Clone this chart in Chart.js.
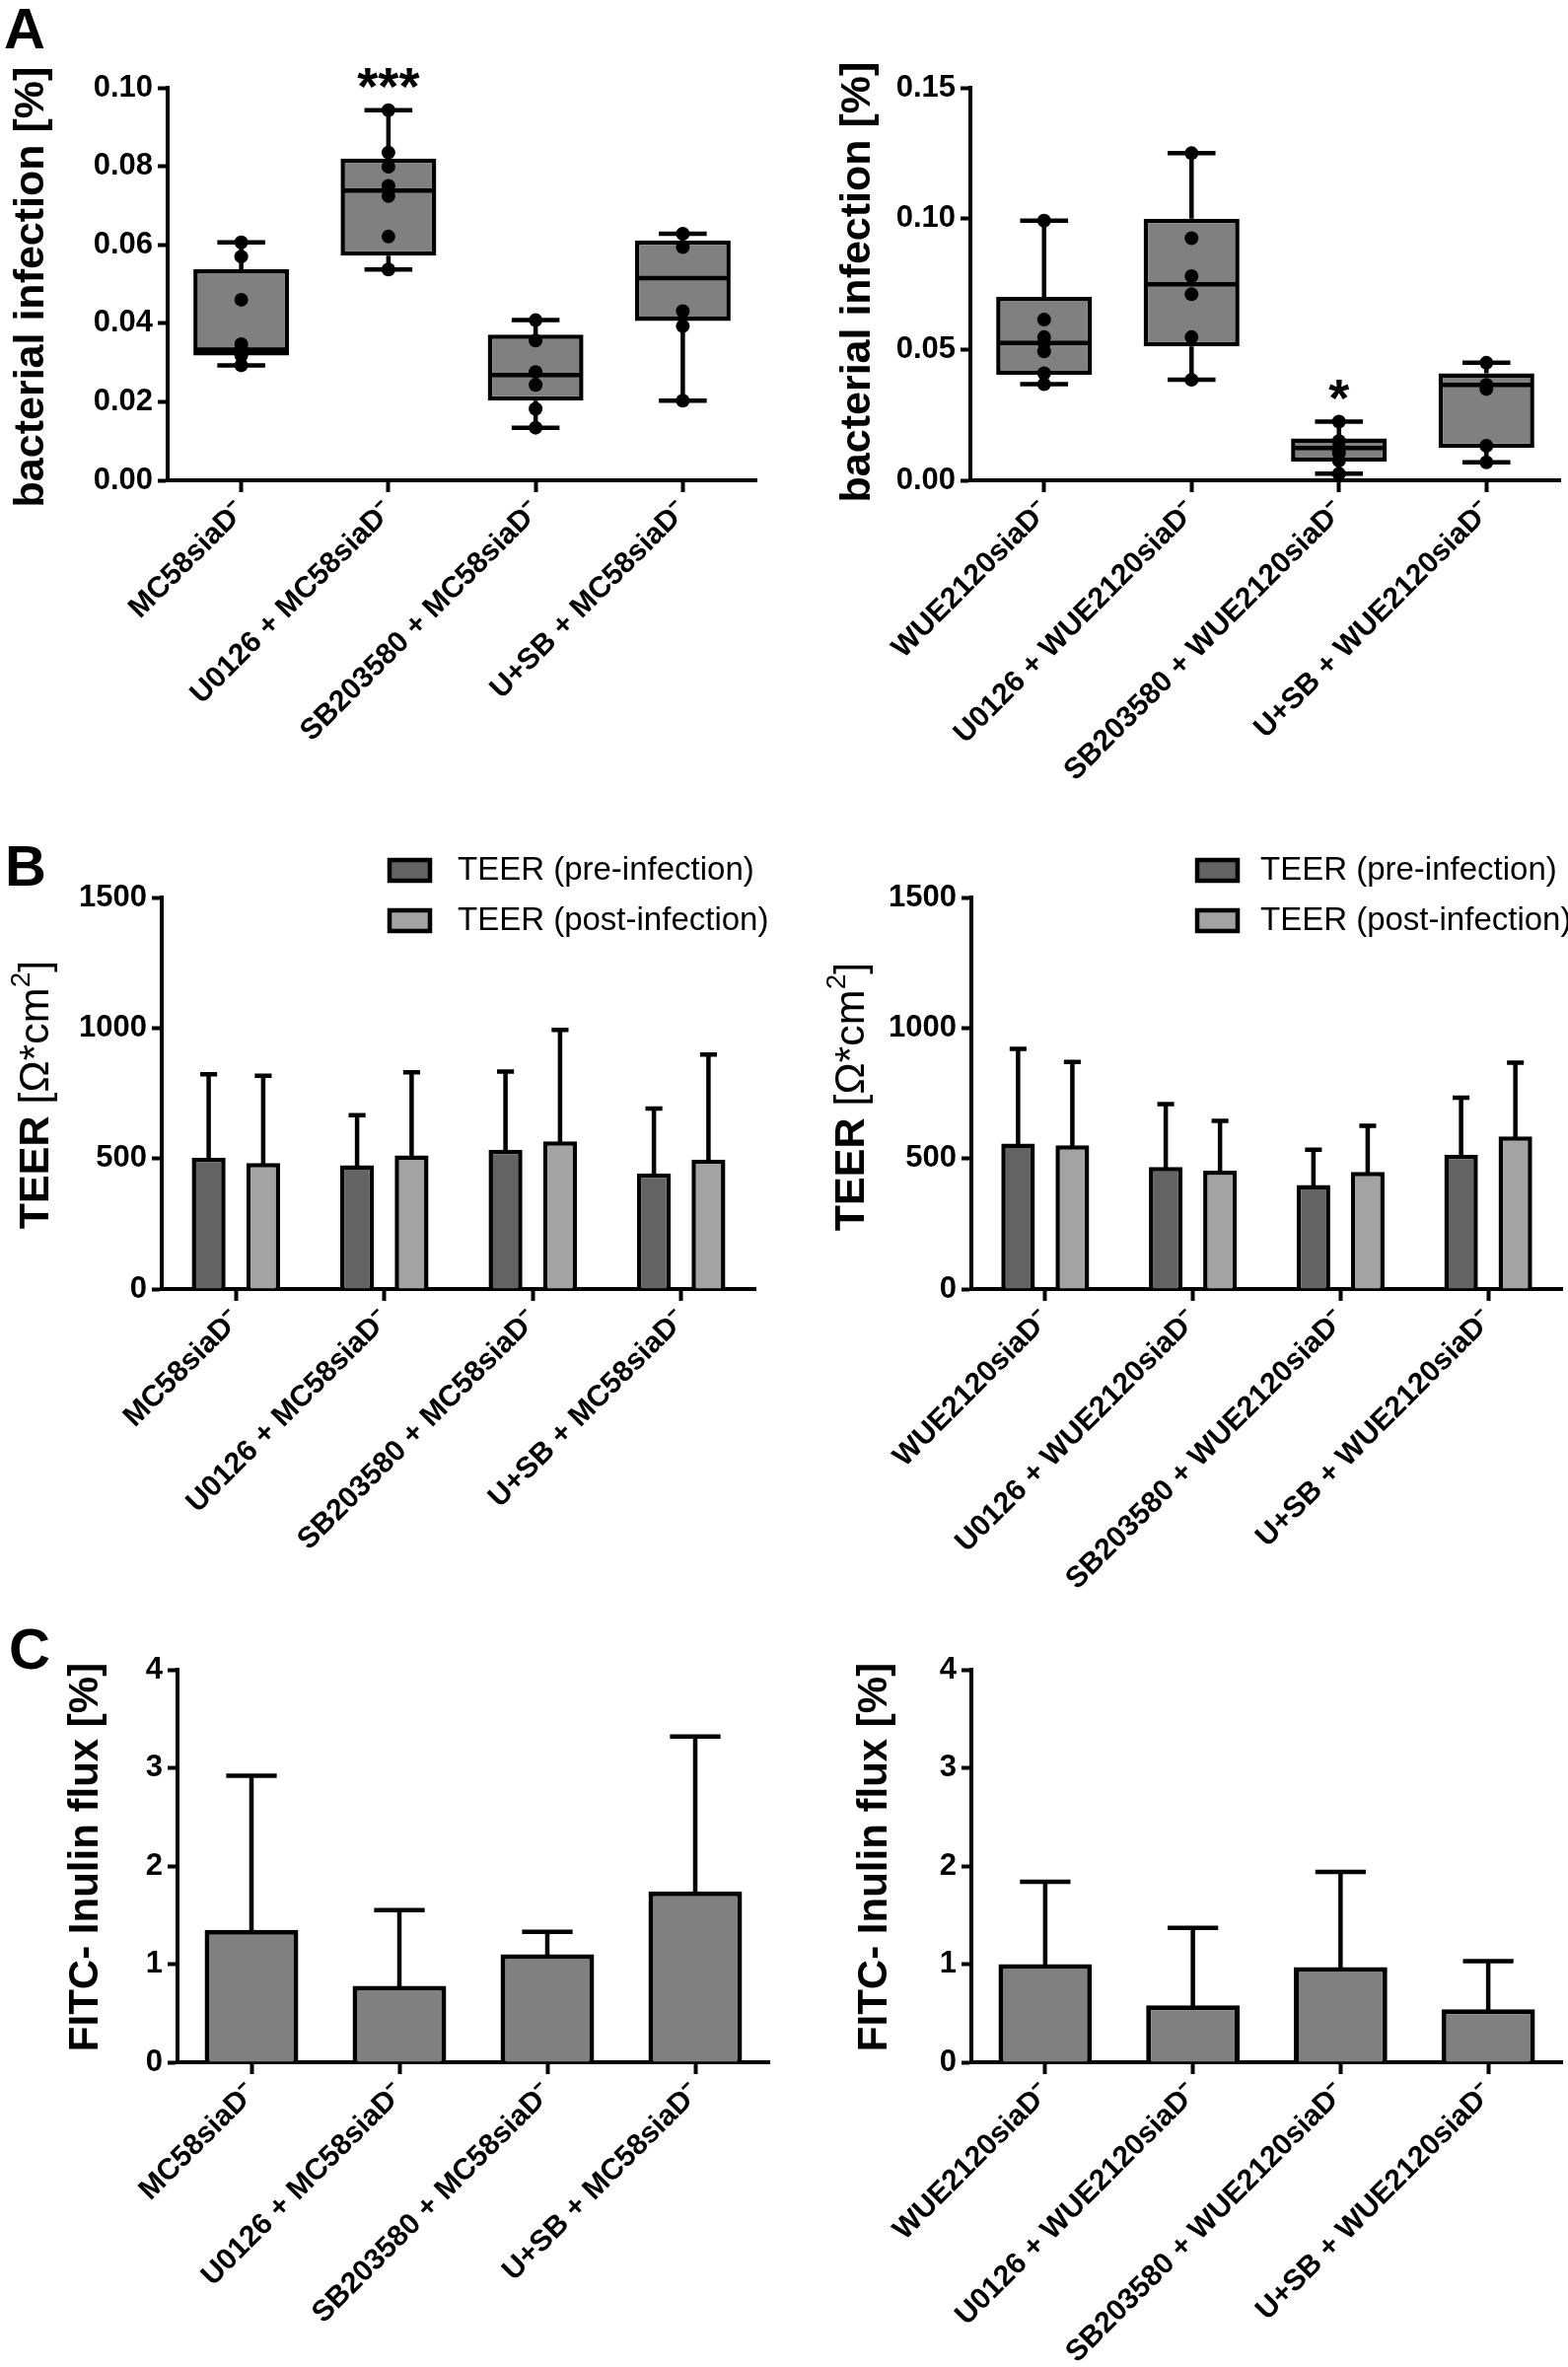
<!DOCTYPE html>
<html><head><meta charset="utf-8">
<script src="https://cdn.jsdelivr.net/npm/chart.js@4.4.1/dist/chart.umd.min.js"></script>
<style>
html,body{margin:0;padding:0;background:#fff;width:1590px;height:2400px;overflow:hidden;position:relative}
.lab{position:absolute;font:bold 58px "Liberation Sans",Arial,sans-serif;line-height:1;color:#000}
canvas{position:absolute}
</style></head><body>
<div class="lab" style="left:4px;top:0px">A</div>
<div class="lab" style="left:5px;top:849px">B</div>
<div class="lab" style="left:9px;top:1643px">C</div>
<script>
// ---------------- DATA ----------------
const catsMC  = ['MC58siaD\u207B', 'U0126 + MC58siaD\u207B', 'SB203580 + MC58siaD\u207B', 'U+SB + MC58siaD\u207B'];
const catsWUE = ['WUE2120siaD\u207B', 'U0126 + WUE2120siaD\u207B', 'SB203580 + WUE2120siaD\u207B', 'U+SB + WUE2120siaD\u207B'];

// Panel A left (MC58) box plots
const aMcMin = [0.0293, 0.0537, 0.0134, 0.0203];
const aMcQ1  = [0.0318, 0.0572, 0.0203, 0.0406];
const aMcMed = [0.0333, 0.0738, 0.0268, 0.0515];
const aMcQ3  = [0.0538, 0.0820, 0.0371, 0.0611];
const aMcMax = [0.0606, 0.0943, 0.0408, 0.0628];
const aMcPts = [
  [0.0606, 0.0570, 0.0460, 0.0347, 0.0335, 0.0318, 0.0293],
  [0.0943, 0.0835, 0.0799, 0.0750, 0.0724, 0.0621, 0.0537],
  [0.0408, 0.0356, 0.0276, 0.0243, 0.0182, 0.0134],
  [0.0628, 0.0594, 0.0431, 0.0393, 0.0203]
];
const aMcSig = ['', '***', '', ''];
const aMcTicks = [0, 0.02, 0.04, 0.06, 0.08, 0.10];

// Panel A right (WUE2120) box plots
const aWuMin = [0.0367, 0.0384, 0.0025, 0.0069];
const aWuQ1  = [0.0403, 0.0512, 0.0072, 0.0123];
const aWuMed = [0.0525, 0.0749, 0.0123, 0.0365];
const aWuQ3  = [0.0701, 0.1000, 0.0160, 0.0409];
const aWuMax = [0.0992, 0.1250, 0.0224, 0.0449];
const aWuPts = [
  [0.0992, 0.0614, 0.0547, 0.0525, 0.0493, 0.0409, 0.0367],
  [0.1250, 0.0925, 0.0780, 0.0711, 0.0547, 0.0384],
  [0.0224, 0.0150, 0.0125, 0.0105, 0.0075, 0.0025],
  [0.0449, 0.0365, 0.0349, 0.0132, 0.0069]
];
const aWuSig = ['', '', '*', ''];
const aWuTicks = [0, 0.05, 0.10, 0.15];

// Panel B: TEER mean and SD
const seriesNames = ['TEER (pre-infection)', 'TEER (post-infection)'];
const bMcPre   = [503, 474, 534, 443];
const bMcPreSd = [320, 192, 299, 248];
const bMcPost  = [483, 512, 566, 496];
const bMcPostSd= [334, 318, 427, 402];
const bWuPre   = [557, 468, 399, 515];
const bWuPreSd = [363, 240, 135, 218];
const bWuPost  = [551, 453, 449, 585];
const bWuPostSd= [319, 191, 176, 282];
const bTicks = [0, 500, 1000, 1500];

// Panel C: FITC-inulin flux mean and SD
const cMc   = [1.35, 0.78, 1.10, 1.74];
const cMcSd = [1.57, 0.77, 0.23, 1.58];
const cWu   = [1.00, 0.58, 0.97, 0.54];
const cWuSd = [0.84, 0.79, 0.97, 0.49];
const cTicks = [0, 1, 2, 3, 4];

// ---------------- LAYOUT ----------------
const FONT = '"Liberation Sans", Arial, Helvetica, sans-serif';
Chart.defaults.font.family = FONT;
Chart.defaults.color = '#000';

const geo = {
  A1: {x:0,   y:0,    w:800, h:820, L:170, R:767, T:89, B:487, tx:32, ty:291},
  A2: {x:800, y:0,    w:800, h:820, L:184, R:782, T:89, B:487, tx:70, ty:286},
  B1: {x:0,   y:820,  w:800, h:820, L:164, R:766, T:90, B:487, tx:37, ty:290, lx:395, ltx:464},
  B2: {x:800, y:820,  w:800, h:820, L:185, R:784, T:90, B:487, tx:64, ty:292, lx:414, ltx:478},
  C1: {x:0,   y:1640, w:800, h:760, L:180, R:780, T:53, B:451, tx:87, ty:243},
  C2: {x:800, y:1640, w:800, h:760, L:185, R:784, T:53, B:451, tx:87, ty:243}
};

function mkCanvas(g) {
  const c = document.createElement('canvas');
  c.width = g.w; c.height = g.h;
  c.style.left = g.x + 'px'; c.style.top = g.y + 'px';
  c.style.width = g.w + 'px'; c.style.height = g.h + 'px';
  document.body.appendChild(c);
  return c;
}

function titlePlugin(g, segs) {
  return {
    id: 'vtitle',
    afterDraw(chart) {
      const ctx = chart.ctx;
      ctx.save();
      ctx.translate(g.tx, g.ty);
      ctx.rotate(-Math.PI / 2);
      ctx.fillStyle = '#000';
      ctx.textBaseline = 'middle';
      ctx.textAlign = 'left';
      let total = 0;
      segs.forEach(s => { ctx.font = s.w + ' ' + s.s + 'px ' + FONT; s.width = ctx.measureText(s.t).width; total += s.width; });
      let x = -total / 2;
      segs.forEach(s => { ctx.font = s.w + ' ' + s.s + 'px ' + FONT; ctx.fillText(s.t, x, -(s.rise || 0)); x += s.width; });
      ctx.restore();
    }
  };
}

function scalesFor(g, yMax, ticks, fmt) {
  return {
    x: {
      offset: true,
      ticks: {color:'#000', font:{size:30, weight:'bold'}, minRotation:45, maxRotation:45, autoSkip:false, padding:2},
      grid: {display:true, offset:false, drawOnChartArea:false, drawTicks:true, tickLength:12, tickWidth:4, tickColor:'#000'},
      border: {display:true, color:'#000', width:4},
      afterFit(s) { s.height = g.h - g.B; s.paddingLeft = 0; s.paddingRight = 0; }
    },
    y: {
      min: 0, max: yMax,
      afterBuildTicks(s) { s.ticks = ticks.map(v => ({value:v})); },
      ticks: {color:'#000', font:{size:31, weight:'bold'}, padding:5, callback: v => fmt(v)},
      grid: {display:true, drawOnChartArea:false, drawTicks:true, tickLength:10, tickWidth:4, tickColor:'#000'},
      border: {display:true, color:'#000', width:4},
      afterFit(s) { s.width = g.L; s.paddingTop = 0; s.paddingBottom = 0; }
    }
  };
}

function baseOptions(g, scales) {
  return {
    responsive:false, animation:false, devicePixelRatio:1, events:[],
    layout:{padding:{left:0, top:g.T, right:g.w - g.R, bottom:0}},
    plugins:{legend:{display:false}, tooltip:{enabled:false}},
    scales
  };
}

// ---------- Box plot panel ----------
function boxPanel(g, cats, mn, q1, med, q3, mx, pts, sig, yMax, ticks, fmt) {
  const c = mkCanvas(g);
  const pointData = [];
  pts.forEach((arr, i) => arr.forEach(v => pointData.push({x: cats[i], y: v})));
  const whisker = {
    id:'whisker',
    afterDatasetsDraw(chart) {
      const ctx = chart.ctx, ys = chart.scales.y, meta = chart.getDatasetMeta(0);
      ctx.save();
      ctx.strokeStyle = '#000'; ctx.lineWidth = 4.5; ctx.lineCap = 'butt';
      meta.data.forEach((bar, i) => {
        const x = bar.x, w = bar.width;
        const pMin = ys.getPixelForValue(mn[i]), pQ1 = ys.getPixelForValue(q1[i]);
        const pQ3 = ys.getPixelForValue(q3[i]), pMax = ys.getPixelForValue(mx[i]);
        const pMed = ys.getPixelForValue(med[i]);
        ctx.beginPath();
        ctx.moveTo(x, pQ1); ctx.lineTo(x, pMin);
        ctx.moveTo(x - w/4, pMin); ctx.lineTo(x + w/4, pMin);
        ctx.moveTo(x, pQ3); ctx.lineTo(x, pMax);
        ctx.moveTo(x - w/4, pMax); ctx.lineTo(x + w/4, pMax);
        ctx.moveTo(x - w/2 + 2, pMed); ctx.lineTo(x + w/2 - 2, pMed);
        ctx.stroke();
        if (sig[i]) {
          ctx.fillStyle = '#000';
          ctx.font = 'bold 54px ' + FONT;
          ctx.textAlign = 'center'; ctx.textBaseline = 'alphabetic';
          ctx.fillText(sig[i], x, pMax - 37 + 31);
        }
      });
      ctx.restore();
    }
  };
  new Chart(c, {
    type:'bar',
    data:{
      labels: cats,
      datasets:[
        {type:'bar', data: q1.map((v, i) => [v, q3[i]]), backgroundColor:'#808080', borderColor:'#000',
         borderWidth:4.5, borderSkipped:false, barPercentage:0.65, categoryPercentage:1, clip:false, order:2},
        {type:'line', data: pointData, showLine:false, pointRadius:7, pointBackgroundColor:'#000',
         pointBorderWidth:0, pointHoverRadius:0, clip:false, order:1}
      ]
    },
    options: baseOptions(g, scalesFor(g, yMax, ticks, fmt)),
    plugins:[whisker, titlePlugin(g, [{t:'bacterial infection [%]', w:'bold', s:43}])]
  });
}

// ---------- Bar + error panel ----------
function errPlugin(sds, capFrac) {
  return {
    id:'errbars',
    afterDatasetsDraw(chart) {
      const ctx = chart.ctx, ys = chart.scales.y;
      ctx.save();
      ctx.strokeStyle = '#000'; ctx.lineWidth = 4.5; ctx.lineCap = 'butt';
      chart.data.datasets.forEach((ds, d) => {
        const meta = chart.getDatasetMeta(d);
        meta.data.forEach((bar, i) => {
          const x = bar.x, w = bar.width;
          const top = ys.getPixelForValue(ds.data[i] + sds[d][i]);
          ctx.beginPath();
          ctx.moveTo(x, bar.y + 2); ctx.lineTo(x, top);
          ctx.moveTo(x - w*capFrac, top); ctx.lineTo(x + w*capFrac, top);
          ctx.stroke();
        });
      });
      ctx.restore();
    }
  };
}

function legendPlugin(g) {
  return {
    id:'mylegend',
    afterDraw(chart) {
      const ctx = chart.ctx;
      ctx.save();
      const rows = [62, 113];
      chart.data.datasets.forEach((ds, d) => {
        const cy = rows[d];
        ctx.fillStyle = ds.backgroundColor;
        ctx.fillRect(g.lx, cy - 10, 41, 21);
        ctx.strokeStyle = '#000'; ctx.lineWidth = 4.5;
        ctx.strokeRect(g.lx, cy - 10, 41, 21);
        ctx.fillStyle = '#000';
        ctx.font = '33px ' + FONT;
        ctx.textAlign = 'left'; ctx.textBaseline = 'middle';
        ctx.fillText(ds.label, g.ltx, cy + 1);
      });
      ctx.restore();
    }
  };
}

function teerPanel(g, cats, pre, preSd, post, postSd) {
  const c = mkCanvas(g);
  new Chart(c, {
    type:'bar',
    data:{
      labels: cats,
      datasets:[
        {label: seriesNames[0], data: pre, backgroundColor:'#636363', borderColor:'#000', borderWidth:4.5,
         borderSkipped:'bottom', barPercentage:0.62, categoryPercentage:0.735},
        {label: seriesNames[1], data: post, backgroundColor:'#a3a3a3', borderColor:'#000', borderWidth:4.5,
         borderSkipped:'bottom', barPercentage:0.62, categoryPercentage:0.735}
      ]
    },
    options: baseOptions(g, scalesFor(g, 1500, bTicks, v => String(v))),
    plugins:[errPlugin([preSd, postSd], 0.25), legendPlugin(g),
      titlePlugin(g, [{t:'TEER ', w:'bold', s:43}, {t:'[\u03A9*cm', w:'normal', s:43}, {t:'2', w:'normal', s:28, rise:15}, {t:']', w:'normal', s:43}])]
  });
}

function fluxPanel(g, cats, vals, sd) {
  const c = mkCanvas(g);
  new Chart(c, {
    type:'bar',
    data:{
      labels: cats,
      datasets:[
        {label:'FITC- Inulin flux', data: vals, backgroundColor:'#808080', borderColor:'#000', borderWidth:5,
         borderSkipped:'bottom', barPercentage:0.633, categoryPercentage:1}
      ]
    },
    options: baseOptions(g, scalesFor(g, 4, cTicks, v => String(v))),
    plugins:[errPlugin([sd], 0.27), titlePlugin(g, [{t:'FITC- Inulin flux [%]', w:'bold', s:42}])]
  });
}

boxPanel(geo.A1, catsMC, aMcMin, aMcQ1, aMcMed, aMcQ3, aMcMax, aMcPts, aMcSig, 0.10, aMcTicks, v => v.toFixed(2));
boxPanel(geo.A2, catsWUE, aWuMin, aWuQ1, aWuMed, aWuQ3, aWuMax, aWuPts, aWuSig, 0.15, aWuTicks, v => v.toFixed(2));
teerPanel(geo.B1, catsMC, bMcPre, bMcPreSd, bMcPost, bMcPostSd);
teerPanel(geo.B2, catsWUE, bWuPre, bWuPreSd, bWuPost, bWuPostSd);
fluxPanel(geo.C1, catsMC, cMc, cMcSd);
fluxPanel(geo.C2, catsWUE, cWu, cWuSd);
</script>
</body></html>
